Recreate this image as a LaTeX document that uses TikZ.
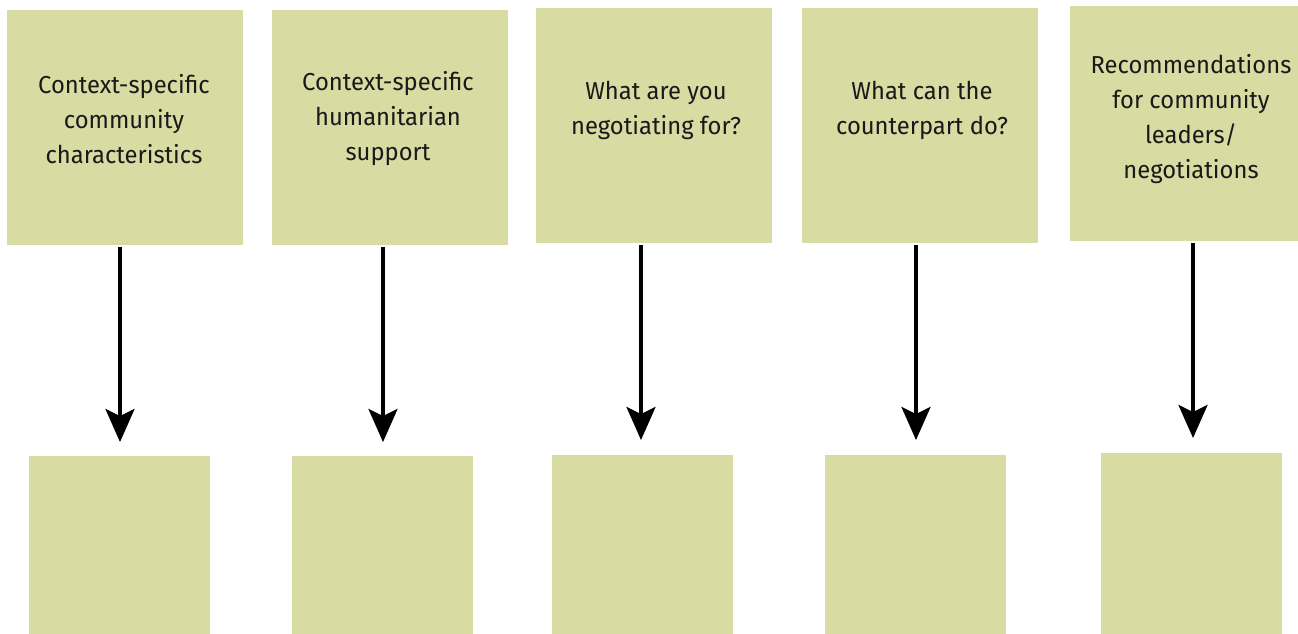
\documentclass[tikz,border=0pt]{standalone}
\usepackage{fontspec}
\setmainfont{Fira Sans}[FakeStretch=0.97]
\usetikzlibrary{arrows.meta}
\definecolor{boxfill}{HTML}{D8DBA2}
\tikzset{
  x=1pt, y=-1pt,
  card/.style={fill=boxfill, draw=none, inner sep=0pt, outer sep=0pt},
  cardtext/.style={align=center, text=black!90, font=\fontsize{24.5}{35}\selectfont, inner sep=0pt},
  flow/.style={line width=3.2pt, -{Stealth[length=33pt, width=29pt, inset=7pt]}}
}
\begin{document}
\begin{tikzpicture}
\useasboundingbox (0,0) rectangle (1298,634);
% upper cards
\path[card] (7,10) rectangle (243,245);    \coordinate (t1) at (120,247);
\path[card] (272,10) rectangle (508,245);  \coordinate (t2) at (383,247);
\path[card] (536,8) rectangle (772,243);   \coordinate (t3) at (641,245);
\path[card] (802,8) rectangle (1038,243);  \coordinate (t4) at (916,245);
\path[card] (1070,6) rectangle (1298,241); \coordinate (t5) at (1193,243);
% card captions
\node[cardtext] (c1) at (124,119) {Context-specific\\community\\characteristics};
\node[cardtext] (c2) at (388,119) {Context-specific\\humanitarian\\support};
\node[cardtext] (c3) at (656,110) {What are you\\negotiating for?};
\node[cardtext] (c4) at (922,110) {What can the\\counterpart do?};
\node[cardtext] (c5) at (1191,119) {Recommendations\\for community\\leaders/\\negotiations};
% lower cards
\path[card] (29,456) rectangle (210,634);
\path[card] (292,456) rectangle (473,634);
\path[card] (552,455) rectangle (733,634);
\path[card] (825,455) rectangle (1006,634);
\path[card] (1101,453) rectangle (1282,634);
% arrow ends
\coordinate (b1) at (120,442);
\coordinate (b2) at (383,442);
\coordinate (b3) at (641,440);
\coordinate (b4) at (916,440);
\coordinate (b5) at (1193,438);
\foreach \i in {1,...,5} \draw[flow] (t\i) -- (b\i);
\end{tikzpicture}
\end{document}
